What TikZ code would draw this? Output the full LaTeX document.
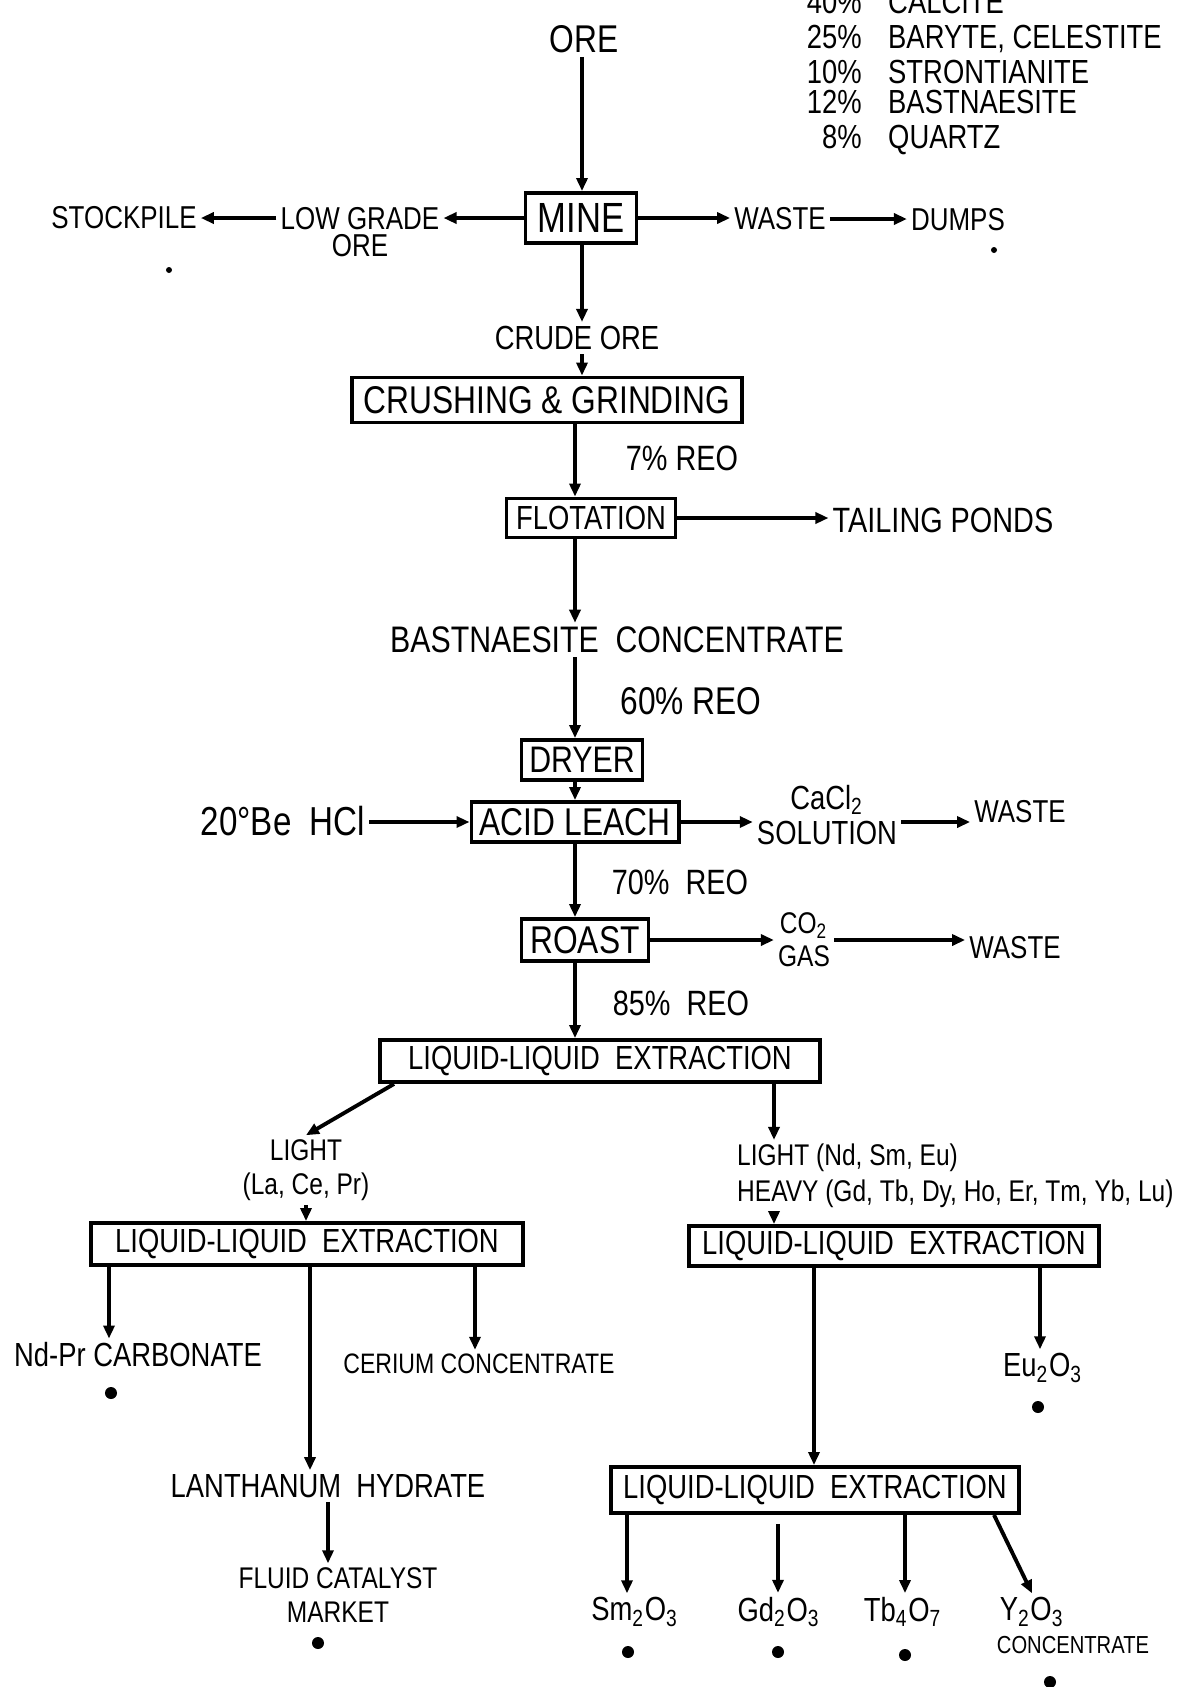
\documentclass[tikz,border=0pt]{standalone}
\usepackage{fontspec}
\setmainfont{Liberation Sans}[FakeStretch=0.82]
\usetikzlibrary{arrows.meta,calc,positioning}
\tikzset{
  >={Triangle[length=1.3mm,width=1.1mm]},
  flow/.style={->,line width=1.1pt},
  procbox/.style args={#1,#2}{draw,line width=1.1pt,minimum width=#1 cm,minimum height=#2 cm,inner sep=0pt},
  hand/.style args={#1/#2}{inner sep=1pt,align=center,font=\fontsize{#1}{#2}\selectfont},
  bullet/.style={fill=black,circle,inner sep=0pt,minimum size=1.2mm},
  speck/.style={fill=black,circle,inner sep=0pt,minimum size=0.6mm}
}
\newcommand{\lle}{LIQUID-LIQUID\ \ EXTRACTION}

\begin{document}
\begin{tikzpicture}[x=0.01cm,y=-0.01cm]
  \useasboundingbox (0,0) rectangle (1178,1687);

  % ore composition
  \foreach \pct/\mnr/\yb [count=\i] in {40\%/CALCITE/13,25\%/{BARYTE, CELESTITE}/48,
      10\%/STRONTIANITE/83,12\%/BASTNAESITE/113,8\%/QUARTZ/148}{
    \node [hand=9.5/11,anchor=base east] (pct\i) at (866,\yb) {\pct};
    \node [hand=9.5/11,anchor=base west] (mnr\i) at (884,\yb) {\mnr};
  }

  \coordinate (spineA) at (582,0);
  \coordinate (spineB) at (575,0);

  \node [hand=11/13] (ore) at (584,39) {ORE};
  \node [procbox={1.11,0.50},hand=12/14] (mine) at (581,218) {MINE};
  \node [hand=9/7.8] (lowgrade) at (360,232) {LOW GRADE\\ORE};
  \node [hand=9/11] (stockpile) at (124,218) {STOCKPILE};
  \node [hand=9/11] (wasteA) at (780,219) {WASTE};
  \node [hand=9/11] (dumps) at (958,220) {DUMPS};
  \node [speck] (spk1) at (169,270) {};
  \node [speck] (spk2) at (994,250) {};

  \node [hand=9.5/11] (crude) at (577,338) {CRUDE ORE};
  \node [procbox={3.90,0.45},hand=11/13] (crush) at (547,400) {CRUSHING \& GRINDING};
  \node [hand=10/12] (reo7) at (682,458) {7\% REO};
  \node [procbox={1.69,0.39},hand=9.5/11] (flot) at (591,518) {FLOTATION};
  \node [hand=10/12] (tailing) at (943,520) {TAILING PONDS};
  \node [hand=10.5/12] (bast) at (617,640) {BASTNAESITE\ \ CONCENTRATE};
  \node [hand=11/13] (reo60) at (691,701) {60\% REO};
  \node [procbox={1.21,0.40},hand=10.5/12] (dryer) at (582,760) {DRYER};
  \node [procbox={2.07,0.40},hand=11/13] (acid) at (575,822) {ACID LEACH};
  \node [hand=11.5/13] (hcl) at (283,821) {20°Be\ \ HCl};
  \node [hand=9.5/10] (cacl) at (827,815) {CaCl\textsubscript{2}\\SOLUTION};
  \node [hand=9/11] (wasteB) at (1020,812) {WASTE};
  \node [hand=10/12] (reo70) at (680,882) {70\%\ \ REO};
  \node [procbox={1.27,0.42},hand=11/13] (roast) at (585,940) {ROAST};
  \node [hand=8.5/9.3] (cotwo) at (804,940) {CO\textsubscript{2}\\GAS};
  \node [hand=9/11] (wasteC) at (1015,948) {WASTE};
  \node [hand=10/12] (reo85) at (681,1003) {85\%\ \ REO};
  \node [procbox={4.39,0.42},hand=9.5/12] (lle1) at (600,1061) {\lle};

  % main line
  \draw[flow] (ore.south -| spineA) -- (mine.north -| spineA);
  \draw[flow] (mine.south -| spineA) -- (crude.north -| spineA);
  \draw[flow] (crude.south -| spineA) -- (crush.north -| spineA);
  \foreach \a/\b in {crush/flot,flot/bast,bast/dryer,dryer/acid,acid/roast,roast/lle1}
    \draw[flow] (\a.south -| spineB) -- (\b.north -| spineB);

  % side streams
  \draw[flow] (mine.west) -- (mine.west -| lowgrade.east);
  \draw[flow] (lowgrade.west |- mine.west) -- (mine.west -| stockpile.east);
  \draw[flow] (mine.east) -- (mine.east -| wasteA.west);
  \draw[flow] (wasteA.east) -- (wasteA.east -| dumps.west);
  \draw[flow] (flot.east) -- (flot.east -| tailing.west);
  \draw[flow] (acid.west -| hcl.east) -- (acid.west);
  \draw[flow] (acid.east) -- (acid.east -| cacl.west);
  \draw[flow] (cacl.east |- acid.east) -- (acid.east -| wasteB.west);
  \draw[flow] (roast.east) -- (roast.east -| cotwo.west);
  \draw[flow] (cotwo.east |- roast.east) -- (roast.east -| wasteC.west);

  % separation
  \node [hand=8.5/9.7] (lightlo) at (306,1170) {LIGHT\\(La, Ce, Pr)};
  \node [hand=8.5/10.2,align=left,anchor=west] (lighthi) at (733,1176)
    {LIGHT (Nd, Sm, Eu)\\HEAVY (Gd, Tb, Dy, Ho, Er, Tm, Yb, Lu)};
  \node [procbox={4.31,0.42},hand=9.5/12] (lle2) at (307,1244) {\lle};
  \node [procbox={4.10,0.40},hand=9.5/12] (lle3) at (894,1246) {\lle};
  \node [hand=9.5/11] (ndpr) at (138,1355) {Nd-Pr CARBONATE};
  \node [hand=8/10] (cerium) at (479,1364) {CERIUM CONCENTRATE};
  \node [hand=9.5/11] (lanth) at (328,1486) {LANTHANUM\ \ HYDRATE};
  \node [hand=8.5/9.7] (fluid) at (338,1595) {FLUID CATALYST\\MARKET};
  \node [hand=9.5/11] (euox) at (1043,1368) {Eu\textsubscript{2}O\textsubscript{3}};
  \node [procbox={4.08,0.46},hand=9.5/12] (lle4) at (815,1490) {\lle};
  \node [hand=9.5/11] (smox) at (635,1612) {Sm\textsubscript{2}O\textsubscript{3}};
  \node [hand=9.5/11] (gdox) at (779,1612) {Gd\textsubscript{2}O\textsubscript{3}};
  \node [hand=9.5/11] (tbox) at (903,1612) {Tb\textsubscript{4}O\textsubscript{7}};
  \node [hand=9.5/11] (yox) at (1032,1612) {Y\textsubscript{2}O\textsubscript{3}};
  \node [hand=7/8] (yconc) at (1073,1645) {CONCENTRATE};

  \path (lle1.south) +(-206,0) coordinate (lle1a) +(174,0) coordinate (lle1b);
  \path (lle2.south) +(-198,0) coordinate (lle2a) +(3,0) coordinate (lle2b)
                     +(168,0) coordinate (lle2c);
  \path (lle3.south) +(-80,0) coordinate (lle3a) +(146,0) coordinate (lle3b);
  \path (lle4.south) +(-188,0) coordinate (lle4a) +(-37,0) coordinate (lle4b)
                     +(90,0) coordinate (lle4c) +(179,0) coordinate (lle4d);

  \draw[flow] (lle1a) -- (lightlo.north);
  \draw[flow] (lle1b) -- (lle1b |- lighthi.north);
  \draw[flow] (lightlo.south) -- (lightlo.south |- lle2.north);
  \draw[flow] (lighthi.south -| lle1b) -- (lle3.north -| lle1b);
  \draw[flow] (lle2a) -- (lle2a |- ndpr.north);
  \draw[flow] (lle2b) -- (lle2b |- lanth.north);
  \draw[flow] (lle2c) -- (lle2c |- cerium.north);
  \draw[flow] (lanth.south) -- (lanth.south |- fluid.north);
  \draw[flow] (lle3a) -- (lle3a |- lle4.north);
  \draw[flow] (lle3b) -- (lle3b |- euox.north);
  \draw[flow] (lle4a) -- (lle4a |- smox.north);
  \draw[flow,shorten <=0.09cm] (lle4b) -- (lle4b |- gdox.north);
  \draw[flow] (lle4c) -- (lle4c |- tbox.north);
  \draw[flow] (lle4d) -- (yox.north);

  % end products
  \node [bullet] (dndpr) at (111,1393) {};
  \node [bullet] (dfluid) at (318,1643) {};
  \node [bullet] (deu) at (1038,1407) {};
  \node [bullet] (dsm) at (628,1652) {};
  \node [bullet] (dgd) at (778,1652) {};
  \node [bullet] (dtb) at (905,1655) {};
  \node [bullet] (dy) at (1050,1682) {};

\end{tikzpicture}
\end{document}
